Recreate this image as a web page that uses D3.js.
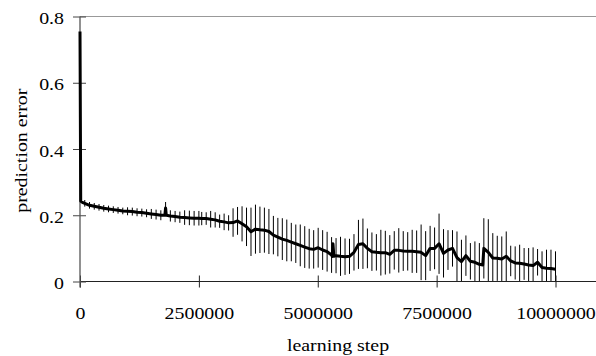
<!DOCTYPE html>
<html><head><meta charset="utf-8">
<script src="https://cdn.jsdelivr.net/npm/d3@7"></script>
<style>html,body{margin:0;padding:0;background:#fff;}svg{display:block;}
svg text{font-family:"Liberation Serif","Times New Roman",Times,serif !important;}</style>
</head><body>
<svg id="chart" width="596" height="356"></svg>
<script>
// learning step, in thousands
const barSteps = [100,200,300,400,500,600,700,800,900,1000,1100,1200,1300,1400,1500,1600,1700,1800,1900,2000,2100,2200,2300,2400,2500,
2560,2654,2748,2843,2937,3031,3125,3219,3313,3408,3502,3596,3690,3784,3878,3973,4067,4161,4255,4349,
4444,4538,4632,4726,4820,4914,5009,5103,5197,5291,5385,5479,5574,5668,5762,5856,5950,6044,6139,6233,
6327,6421,6515,6609,6704,6798,6892,6986,7080,7174,7269,7363,7457,7551,7645,7739,7834,7928,8022,8116,
8210,8305,8399,8493,8587,8681,8775,8870,8964,9058,9152,9246,9340,9435,9529,9623,9717,9811,9905,10000];
const barMeans = [0.236,0.230,0.227,0.224,0.221,0.219,0.217,0.215,0.213,0.212,0.211,0.209,0.208,0.206,0.204,0.202,0.200,0.222,0.198,0.196,0.194,0.193,0.192,0.191,0.191,
0.190,0.190,0.188,0.186,0.182,0.180,0.177,0.178,0.183,0.174,
0.165,0.150,0.158,0.156,0.155,0.151,0.140,0.134,0.128,0.124,
0.119,0.114,0.109,0.104,0.099,0.097,0.102,0.095,0.090,0.080,
0.078,0.076,0.075,0.076,0.088,0.112,0.114,0.100,0.090,0.088,
0.087,0.087,0.082,0.094,0.094,0.092,0.091,0.091,0.090,0.088,
0.078,0.100,0.100,0.114,0.085,0.095,0.100,0.072,0.060,0.078,
0.061,0.058,0.052,0.100,0.088,0.071,0.070,0.068,0.076,0.062,
0.056,0.055,0.053,0.050,0.048,0.058,0.042,0.040,0.039,0.037];
const barErrors = [0.010,0.010,0.010,0.010,0.010,0.010,0.010,0.010,0.010,0.012,0.012,0.012,0.012,0.012,0.015,0.015,0.015,0.018,0.017,0.017,0.017,0.022,0.022,0.022,0.022,
0.020,0.019,0.025,0.023,0.020,0.025,0.023,0.043,0.042,0.053,
0.058,0.073,0.074,0.070,0.068,0.068,0.058,0.058,0.063,0.063,
0.058,0.058,0.063,0.063,0.060,0.058,0.060,0.060,0.060,0.054,
0.053,0.059,0.055,0.053,0.055,0.074,0.076,0.060,0.058,0.055,
0.069,0.066,0.058,0.058,0.067,0.060,0.058,0.065,0.064,0.084,
0.074,0.068,0.063,0.091,0.073,0.060,0.055,0.079,0.066,0.061,
0.055,0.063,0.064,0.091,0.100,0.075,0.068,0.068,0.075,0.046,
0.050,0.056,0.048,0.051,0.055,0.040,0.049,0.056,0.057,0.054];
// additional points of the mean curve between error bars
const extraSteps = [0,15,50,1785,1815,5305,5320,5340,8470];
const extraValues = [0.755,0.243,0.239,0.200,0.200,0.076,0.114,0.076,0.050];
const xTicks = [0,2500,5000,7500,10000];
const xTickLabels = ["0","2500000","5000000","7500000","10000000"];
const yTicks = [0,0.2,0.4,0.6,0.8];
const yTickLabels = ["0","0.2","0.4","0.6","0.8"];
const xTitle = "learning step";
const yTitle = "prediction error";

const W = 596, H = 356;
const SX = 1.17;
const svg = d3.select("#chart");
const x = d3.scaleLinear().domain([0,10000]).range([80,555.5]);
const y = d3.scaleLinear().domain([0,0.8]).range([281.5,16.5]);

// frame line at top
svg.append("line").attr("x1",x(0)).attr("x2",W).attr("y1",y(0.8)).attr("y2",y(0.8))
  .attr("stroke","#999").attr("stroke-width",1);

// error bars
const bars = barSteps.map((s,i)=>({s, m:barMeans[i], e:barErrors[i]}));
svg.append("g").selectAll("line").data(bars).join("line")
  .attr("x1",d=>x(d.s)).attr("x2",d=>x(d.s))
  .attr("y1",d=>y(Math.max(0,d.m-d.e))).attr("y2",d=>y(d.m+d.e))
  .attr("stroke","#000").attr("stroke-width",1);

// x axis
const gx = svg.append("g").attr("transform",`translate(0,${y(0)})`)
  .call(d3.axisBottom(x).tickValues(xTicks).tickFormat((d,i)=>xTickLabels[i]).tickSize(6).tickSizeOuter(0));
gx.select(".domain").remove();
gx.selectAll(".tick line").attr("y1",-6).attr("y2",6).attr("stroke","#222");
gx.selectAll(".tick text").attr("y",null).attr("dy",null)
  .attr("transform",`translate(0,37) scale(${SX},1)`)
  .attr("font-size",17).attr("fill","#000");
svg.append("line").attr("x1",x(0)).attr("x2",W).attr("y1",y(0)).attr("y2",y(0))
  .attr("stroke","#222").attr("stroke-width",1);

// y axis
const gy = svg.append("g").attr("transform",`translate(${x(0)},0)`)
  .call(d3.axisLeft(y).tickValues(yTicks).tickFormat((d,i)=>yTickLabels[i]).tickSize(6).tickSizeOuter(0));
gy.select(".domain").remove();
gy.selectAll(".tick line").attr("x1",-7).attr("x2",6).attr("stroke","#444");
gy.selectAll(".tick text").attr("x",null).attr("dy",null)
  .attr("transform",`translate(-16,7) scale(${SX},1)`)
  .attr("font-size",17).attr("fill","#000");
svg.append("line").attr("x1",x(0)).attr("x2",x(0)).attr("y1",y(0.8)).attr("y2",y(0)+6)
  .attr("stroke","#555").attr("stroke-width",1.3);

// mean curve
const pts = bars.map(d=>[d.s,d.m]).concat(extraSteps.map((s,i)=>[s,extraValues[i]]))
  .sort((a,b)=>a[0]-b[0]);
svg.append("path").datum(pts)
  .attr("d",d3.line().x(d=>x(d[0])).y(d=>y(d[1])))
  .attr("fill","none").attr("stroke","#000").attr("stroke-width",3)
  .attr("stroke-linejoin","round");

// titles
svg.append("text").attr("transform",`translate(338,351) scale(${SX},1)`)
  .attr("text-anchor","middle").attr("font-size",17).text(xTitle);
svg.append("text").attr("transform",`translate(26.5,150.7) rotate(-90) scale(${SX},1)`)
  .attr("text-anchor","middle").attr("font-size",17).text(yTitle);
</script>
</body></html>
